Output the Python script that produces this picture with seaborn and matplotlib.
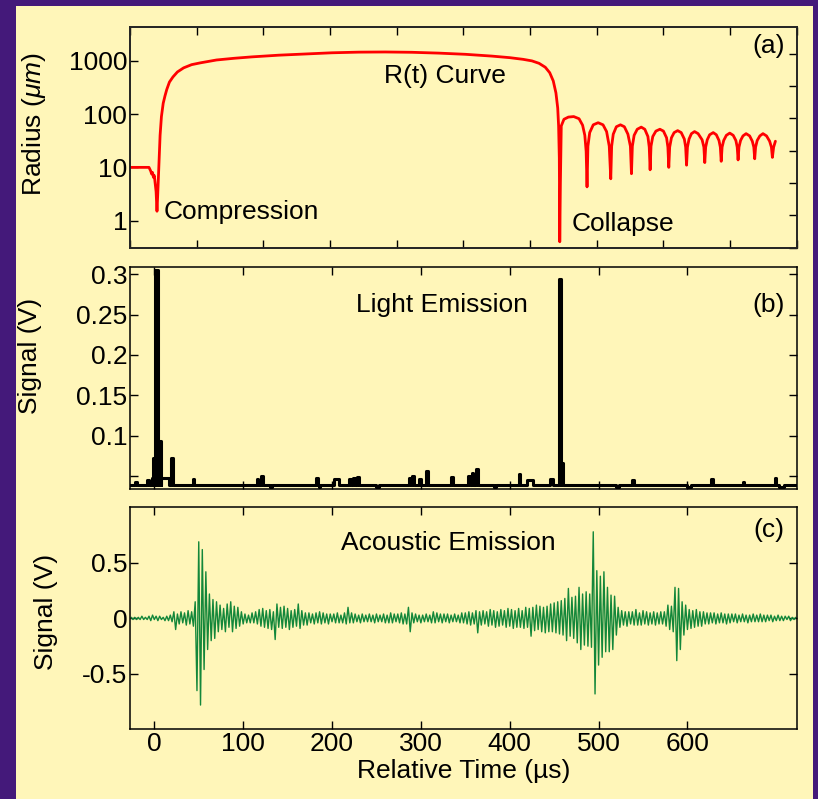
import numpy as np
import pandas as pd
import matplotlib
matplotlib.use("Agg")
import matplotlib.pyplot as plt
import seaborn as sns
from matplotlib.patches import Rectangle
from matplotlib.ticker import LinearLocator, NullLocator

# ---- panel (a): bubble radius R(t), um
radius_t = [-27, -6, -4, -3, -2, -1, 0, 1, 2, 3, 3.8, 5, 6.5, 8, 10, 12, 14, 17, 21, 26,
            33, 42, 52, 70, 90, 110, 140, 170, 200, 230, 260, 290, 320, 350, 380, 400,
            415, 425, 433, 440, 445, 449, 452, 454, 455, 455.8, 456.3,
            457, 458, 461, 466, 472, 478, 482, 484.5, 486, 487,
            488, 490, 494, 499.5, 505, 509, 512, 513.7,
            514.7, 516.5, 520, 524.6, 529, 533, 535.8, 537,
            538, 540, 543.5, 548, 552, 555.5, 557, 558,
            559, 561, 564.5, 569, 573, 576.5, 578, 579,
            580, 582, 585, 589, 593, 596.5, 598, 599,
            600, 601.8, 604.5, 608, 612, 616.5, 618.5, 619.5,
            620.5, 622.3, 625, 629, 632.5, 635.5, 637, 638,
            639, 640.8, 643.8, 647.6, 651.5, 654.5, 656, 657,
            658, 659.8, 662.5, 666, 670, 673, 674.7, 675.7,
            676.7, 678.5, 681.5, 685, 689, 692.5, 694.5, 695.6,
            697, 699]
radius_um = [10, 10, 8.5, 7.5, 8, 6.5, 7, 5, 3.5, 1.5, 3, 10, 40, 90, 160, 220, 290, 400, 500, 620,
             740, 850, 920, 1040, 1120, 1190, 1280, 1350, 1420, 1460, 1470, 1450, 1400, 1330, 1230, 1150,
             1070, 1000, 900, 760, 600, 420, 250, 130, 60, 15, 0.4,
             5, 60, 80, 88, 90, 82, 62, 40, 20, 4.3,
             25, 45, 63, 69, 63, 47, 25, 6.1,
             25, 42, 58, 63, 58, 42, 25, 7.6,
             25, 40, 52, 57, 52, 38, 24, 9,
             25, 38, 48, 52, 48, 36, 24, 10,
             24, 36, 45, 49, 45, 34, 24, 11,
             24, 34, 43, 47, 43, 33, 24, 12.3,
             24, 33, 41, 45, 41, 32, 24, 13,
             24, 32, 40, 44, 40, 32, 24, 13.8,
             24, 32, 39, 43, 39, 31, 24, 14.5,
             24, 32, 39, 43, 39, 31, 24, 15.4,
             24, 31]

# ---- panel (b): light emission, V (step bins: start, end, level)
light_base = 0.039
light_start = [-22, -8, -3, -1, 1, 4, 8, 19, 43, 115, 120, 130, 182, 185, 202, 219, 224, 228,
               250, 287, 290, 298, 306, 334, 353, 357, 362, 382, 410, 419, 445, 456, 458,
               520, 538, 600, 627, 662, 698, 703]
light_end = [-19, -6, -1, 1, 4, 8, 16, 21, 45, 117, 122, 133, 184, 187, 208, 221, 226, 230,
             253, 289, 292, 300, 308, 336, 355, 359, 364, 384, 412, 426, 449, 458, 460,
             523, 540, 604, 629, 664, 700, 709]
light_v = [0.043, 0.045, 0.048, 0.072, 0.305, 0.094, 0.047, 0.072, 0.046, 0.046, 0.050, 0.037,
           0.047, 0.036, 0.046, 0.046, 0.047, 0.049, 0.037, 0.047, 0.050, 0.046, 0.056, 0.049,
           0.050, 0.054, 0.059, 0.036, 0.053, 0.045, 0.046, 0.294, 0.066, 0.037, 0.045, 0.037,
           0.046, 0.043, 0.048, 0.036]

# ---- panel (c): acoustic emission, V, one sample every 2 us from -26 us
acoustic_t0, acoustic_dt = -26, 2
acoustic_v = [
    0.01, -0.01, 0.01, -0.01, 0.01, -0.01, 0.02, -0.01, 0.01, -0.01,
    0.02, -0.02, 0.03, -0.01, 0.02, -0.02, 0.02, -0.01, 0.01, -0.02,
    0.02, -0.02, 0.03, -0.03, 0.06,
    -0.10, 0.04, -0.05, 0.06, -0.04, 0.05, -0.06, 0.07, -0.05, 0.06,
    -0.07, 0.15, -0.65, 0.69, -0.78, 0.62, -0.46, 0.42, -0.28, 0.22,
    -0.20, 0.17, -0.18, 0.15, -0.12,
    0.12, -0.10, 0.09, -0.12, 0.13, -0.08, 0.15, -0.12, 0.11, -0.09,
    0.10, -0.07, 0.06, -0.05, 0.04, -0.04, 0.03, -0.04, 0.05, -0.04,
    0.06, -0.05, 0.08, -0.07, 0.09,
    -0.08, 0.07, -0.09, 0.08, -0.10, 0.06, -0.19, 0.13, -0.08, 0.10,
    -0.09, 0.11, -0.08, 0.09, -0.10, 0.07, -0.08, 0.08, -0.07, 0.13,
    -0.09, 0.07, -0.06, 0.05, -0.06,
    0.05, -0.04, 0.04, -0.05, 0.05, -0.04, 0.06, -0.05, 0.05, -0.04,
    0.04, -0.05, 0.04, -0.03, 0.04, -0.04, 0.05, -0.04, 0.03, -0.04,
    0.05, -0.05, 0.10, -0.04, 0.05,
    -0.04, 0.04, -0.03, 0.03, -0.04, 0.04, -0.03, 0.03, -0.03, 0.04,
    -0.03, 0.03, -0.04, 0.04, -0.03, 0.03, -0.03, 0.04, -0.04, 0.03,
    -0.04, 0.05, -0.04, 0.04, -0.03,
    0.04, -0.04, 0.05, -0.05, 0.04, -0.05, 0.10, -0.12, 0.05, -0.04,
    0.04, -0.03, 0.03, -0.04, 0.03, -0.03, 0.04, -0.03, 0.03, -0.04,
    0.06, -0.04, 0.05, -0.03, 0.04,
    -0.04, 0.04, -0.03, 0.04, -0.04, 0.03, -0.03, 0.04, -0.03, 0.03,
    -0.04, 0.05, -0.04, 0.05, -0.05, 0.06, -0.06, 0.05, -0.05, 0.07,
    -0.13, 0.06, -0.06, 0.07, -0.05,
    0.06, -0.07, 0.08, -0.06, 0.07, -0.08, 0.06, -0.07, 0.08, -0.06,
    0.07, -0.08, 0.09, -0.07, 0.08, -0.09, 0.07, -0.08, 0.09, -0.08,
    0.07, -0.09, 0.10, -0.08, 0.09,
    -0.16, 0.10, -0.11, 0.12, -0.10, 0.11, -0.12, 0.10, -0.13, 0.11,
    -0.12, 0.13, -0.12, 0.14, -0.13, 0.15, -0.14, 0.16, -0.15, 0.18,
    -0.20, 0.27, -0.16, 0.19, -0.18,
    0.20, -0.22, 0.28, -0.28, 0.22, -0.24, 0.24, -0.25, 0.22, -0.26,
    0.78, -0.68, 0.43, -0.42, 0.38, -0.35, 0.42, -0.30, 0.28, -0.30,
    0.21, -0.28, 0.20, -0.15, 0.10,
    -0.08, 0.07, -0.06, 0.06, -0.07, 0.06, -0.05, 0.06, -0.06, 0.08,
    -0.06, 0.05, -0.06, 0.07, -0.05, 0.06, -0.06, 0.05, -0.05, 0.06,
    -0.06, 0.05, -0.05, 0.06, -0.05,
    0.06, -0.07, 0.12, -0.10, 0.11, -0.12, 0.28, -0.38, 0.27, -0.28,
    0.15, -0.15, 0.12, -0.10, 0.08, -0.09, 0.07, -0.08, 0.08, -0.07,
    0.06, -0.07, 0.06, -0.05, 0.05,
    -0.05, 0.05, -0.04, 0.05, -0.05, 0.04, -0.04, 0.05, -0.04, 0.04,
    -0.05, 0.04, -0.04, 0.04, -0.03, 0.04, -0.04, 0.03, -0.03, 0.04,
    -0.03, 0.03, -0.04, 0.03, -0.03,
    0.04, -0.03, 0.03, -0.03, 0.04, -0.03, 0.03, -0.03, 0.03, -0.02,
    0.03, -0.03, 0.02, -0.02, 0.03, -0.02, 0.02, -0.02, 0.02, -0.01,
    0.02, -0.02, 0.01, -0.01, 0.01,
]

time_ticks = [0, 100, 200, 300, 400, 500, 600]
radius_ticks = [1, 10, 100, 1000]
light_ticks = [0.05, 0.1, 0.15, 0.2, 0.25, 0.3]
light_labels = ["", "0.1", "0.15", "0.2", "0.25", "0.3"]
acoustic_ticks = [-0.5, 0, 0.5]
acoustic_labels = ["-0.5", "0", "0.5"]

# ---- tables
df_r = pd.DataFrame({"t": radius_t, "R": radius_um})

lx, ly = [-27], [light_base]
for s, e, v in zip(light_start, light_end, light_v):
    lx += [s, s, e, e]
    ly += [light_base, v, v, light_base]
lx.append(723)
ly.append(light_base)
df_l = pd.DataFrame({"t": lx, "V": ly})

df_a = pd.DataFrame({"t": acoustic_t0 + acoustic_dt * np.arange(len(acoustic_v)),
                     "V": acoustic_v})

# ---- style
sns.set_theme(style="ticks")
plt.rcParams['font.family'] = ['Liberation Sans', 'DejaVu Sans']
plt.rcParams['mathtext.fontset'] = 'custom'
plt.rcParams['mathtext.rm'] = 'Liberation Sans'
plt.rcParams['mathtext.it'] = 'Liberation Sans:italic'
plt.rcParams['text.color'] = 'black'
plt.rcParams['axes.labelcolor'] = 'black'
plt.rcParams['xtick.color'] = 'black'
plt.rcParams['ytick.color'] = 'black'

purple = "#44197A"
yellow = "#FFF6B9"
FS = 19

fig = plt.figure(figsize=(8.18, 7.99), dpi=100, facecolor=purple)
# pale yellow card behind the three panels
bg = fig.add_axes([0, 0, 1, 1], zorder=-5)
bg.set_axis_off()
bg.add_patch(Rectangle((0.0196, 0.0), 0.974, 0.9925, transform=bg.transAxes,
                       facecolor=yellow, edgecolor="none"))

ax_a = fig.add_axes([0.159, 0.690, 0.815, 0.276])
ax_b = fig.add_axes([0.159, 0.388, 0.815, 0.278])
ax_c = fig.add_axes([0.159, 0.087, 0.815, 0.278])

for ax in (ax_a, ax_b, ax_c):
    ax.set_facecolor(yellow)
    for sp in ax.spines.values():
        sp.set_color("black")
        sp.set_linewidth(1.1)
    ax.tick_params(direction="in", length=6, width=1, colors="black",
                   labelsize=FS, pad=2)

xlim = (-27.3, 723)

# (a) R(t)
sns.lineplot(data=df_r, x="t", y="R", ax=ax_a, color="#FF0000", lw=2.0,
             estimator=None, sort=False)
ax_a.set_yscale("log")
ax_a.set_xlim(xlim)
ax_a.set_ylim(0.31, 4300)
ax_a.set_yticks(radius_ticks, labels=[str(v) for v in radius_ticks])
ax_a.yaxis.set_minor_locator(NullLocator())
ax_a.xaxis.set_major_locator(LinearLocator(11))
ax_a.tick_params(axis="x", top=True, bottom=True, labelbottom=False)
ax_a.tick_params(axis="y", left=True, right=False)
ax_a.set_xlabel("")
ax_a.set_ylabel(r"Radius ($\mu m$)", fontsize=FS)
ax_a.yaxis.set_label_coords(-0.123, 0.56)
ax_r = ax_a.twinx()
ax_r.set_ylim(0, 6.82)
ax_r.set_yticks(range(7))
ax_r.tick_params(axis="y", direction="in", length=6, width=1, labelright=False)
ax_r.spines["right"].set_linewidth(1.1)
ax_a.text(0.472, 0.78, "R(t) Curve", transform=ax_a.transAxes, fontsize=FS,
          ha="center", va="center")
ax_a.text(0.05, 0.163, "Compression", transform=ax_a.transAxes, fontsize=FS,
          ha="left", va="center")
ax_a.text(0.663, 0.108, "Collapse", transform=ax_a.transAxes, fontsize=FS,
          ha="left", va="center")
ax_a.text(0.982, 0.915, "(a)", transform=ax_a.transAxes, fontsize=FS,
          ha="right", va="center")

# (b) light
sns.lineplot(data=df_l, x="t", y="V", ax=ax_b, color="black", lw=2.2,
             estimator=None, sort=False)
ax_b.set_xlim(xlim)
ax_b.set_ylim(0.034, 0.309)
ax_b.set_yticks(light_ticks, labels=light_labels)
ax_b.set_xticks(time_ticks)
ax_b.tick_params(axis="x", top=True, bottom=True, labelbottom=False)
ax_b.tick_params(axis="y", left=True, right=True)
ax_b.set_xlabel("")
ax_b.set_ylabel("Signal (V)", fontsize=FS)
ax_b.yaxis.set_label_coords(-0.132, 0.6)
ax_b.text(0.468, 0.83, "Light Emission", transform=ax_b.transAxes, fontsize=FS,
          ha="center", va="center")
ax_b.text(0.982, 0.83, "(b)", transform=ax_b.transAxes, fontsize=FS,
          ha="right", va="center")

# (c) acoustic
sns.lineplot(data=df_a, x="t", y="V", ax=ax_c, color="#13873A", lw=1.0,
             estimator=None, sort=False)
ax_c.set_xlim(xlim)
ax_c.set_ylim(-1, 1)
ax_c.set_yticks(acoustic_ticks, labels=acoustic_labels)
ax_c.set_xticks(time_ticks, labels=[str(v) for v in time_ticks])
ax_c.tick_params(axis="x", top=True, bottom=True)
ax_c.tick_params(axis="y", left=True, right=True)
ax_c.set_xlabel("Relative Time (\u00b5s)", fontsize=FS, labelpad=2)
ax_c.set_ylabel("Signal (V)", fontsize=FS)
ax_c.yaxis.set_label_coords(-0.108, 0.53)
ax_c.text(0.477, 0.84, "Acoustic Emission", transform=ax_c.transAxes, fontsize=FS,
          ha="center", va="center")
ax_c.text(0.982, 0.9, "(c)", transform=ax_c.transAxes, fontsize=FS,
          ha="right", va="center")

fig.savefig("out.png", dpi=100, facecolor=purple)
